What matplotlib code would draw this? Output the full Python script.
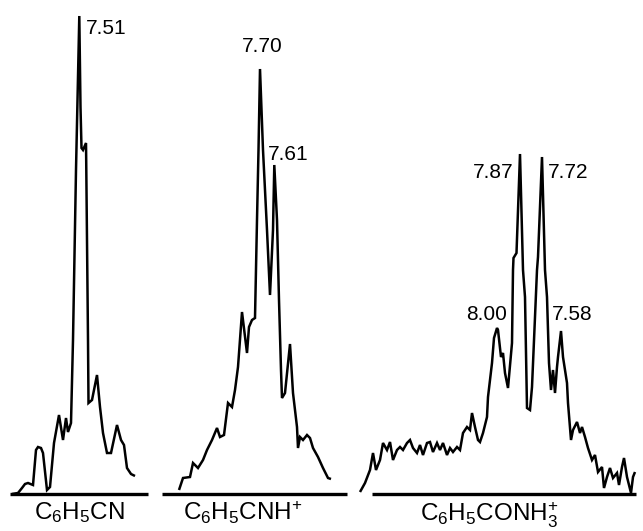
import matplotlib
matplotlib.use("Agg")
import matplotlib.pyplot as plt
import numpy as np

plt.rcParams['font.family'] = ['Liberation Sans', 'DejaVu Sans']
plt.rcParams['mathtext.fontset'] = 'custom'
plt.rcParams['mathtext.rm'] = 'Liberation Sans'

# ---- data: trace positions (x) and heights above baseline (intensity) ----
BASE = 494

cn_x = [12, 18, 22, 25, 28, 33, 36, 38, 41, 43, 47, 50, 54, 59, 63, 66, 68, 71, 73, 76,
        79.3, 80.5, 81.5, 83, 86, 86.2, 88, 88.5, 92, 97, 100, 103, 107, 111, 117, 121,
        124, 127, 131, 135]
cn_y = [0, 1, 6, 10, 11, 9, 44, 47, 46, 41, 4, 7, 51, 79, 54, 76, 62, 71, 154, 324,
        478, 387, 346, 344, 351, 334, 154, 91, 94, 119, 87, 61, 41, 41, 69, 54,
        49, 26, 20, 18]

cnh_x = [179, 183, 190, 193, 198, 203, 207, 212, 217, 220, 224, 228, 232, 235, 238, 242,
         247, 249, 252, 255, 257, 258.5, 260, 263, 267, 270, 273, 274.3, 277, 279, 281,
         282, 285, 290, 293, 297, 298, 300, 303, 307, 310, 313, 318, 323, 328, 331]
cnh_y = [4, 16, 17, 31, 26, 34, 44, 54, 66, 57, 59, 91, 87, 104, 127, 182,
         141, 167, 174, 176, 274, 344, 425, 344, 264, 199, 264, 329, 274, 194, 124,
         96, 101, 150, 101, 67, 46, 57, 54, 59, 56, 46, 37, 26, 16, 15]

conh_x = [360, 365, 370, 373, 376, 380, 383, 387, 390, 393, 397, 400, 403, 407, 410, 413,
          417, 420, 423, 427, 430, 433, 437, 440, 443, 447, 450, 453, 457, 460, 463, 467,
          470, 472, 475, 478, 480, 483, 487, 488, 492, 494, 497, 498, 501, 503, 505, 508,
          512, 513, 513.5, 516.5, 520, 523, 525, 527, 530, 532, 535, 537, 538, 542, 545,
          547, 549, 551, 553, 555, 557, 558, 561, 563, 567, 568, 571, 573, 577, 580, 582,
          585, 588, 592, 595, 598, 602, 604, 607, 610, 613, 617, 619, 622, 624, 627, 631,
          633, 635]
conh_y = [2, 11, 24, 41, 24, 34, 51, 44, 52, 34, 44, 47, 44, 51, 54, 46,
          41, 49, 39, 51, 52, 42, 51, 44, 51, 39, 46, 42, 47, 44, 61, 67,
          64, 81, 67, 54, 52, 61, 77, 97, 131, 156, 166, 164, 137, 141, 121, 106,
          151, 224, 236, 241, 340, 224, 197, 86, 84, 107, 177, 224, 237, 337, 224,
          197, 131, 104, 124, 101, 127, 137, 163, 137, 111, 91, 54, 64, 72, 61, 67,
          57, 46, 34, 39, 22, 27, 6, 17, 26, 16, 21, 9, 27, 36, 17, 1,
          17, 22]

# baselines (start, end) of each panel
base_spans = [(10, 148), (162, 347), (372, 636)]

# peak labels: text, x, intensity, alignment
peak_labels = [("7.51", 86, 466, 'left'),
               ("7.70", 262, 448, 'center'),
               ("7.61", 268, 339, 'left'),
               ("7.87", 513, 322, 'right'),
               ("7.72", 548, 322, 'left'),
               ("8.00", 507, 179, 'right'),
               ("7.58", 552, 179, 'left')]

compound_labels = [(r"$\mathregular{C_6H_5CN}$", 79, -19),
                   (r"$\mathregular{C_6H_5CNH^{+}}$", 243, -19),
                   (r"$\mathregular{C_6H_5CONH_3^{+}}$", 489, -21)]

# ---- drawing ----
fig = plt.figure(figsize=(6.43, 5.31), dpi=100)
ax = fig.add_axes([0, 0, 1, 1])
ax.set_xlim(0, 643)
ax.set_ylim(BASE - 531, BASE)
ax.axis('off')

lw = 1.8
for xs, ys in [(cn_x, cn_y), (cnh_x, cnh_y), (conh_x, conh_y)]:
    ax.plot(xs, ys, color='black', lw=lw, solid_joinstyle='miter', solid_capstyle='butt')

for x0, x1 in base_spans:
    ax.plot([x0, x1], [0, 0], color='black', lw=2.4, solid_capstyle='butt')

for txt, x, y, ha in peak_labels:
    ax.text(x, y, txt, ha=ha, va='center', fontsize=15, color='black')

for txt, x, y in compound_labels:
    ax.text(x, y, txt, ha='center', va='center', fontsize=17.5, color='black')

fig.savefig("out.png", dpi=100, facecolor='white')
